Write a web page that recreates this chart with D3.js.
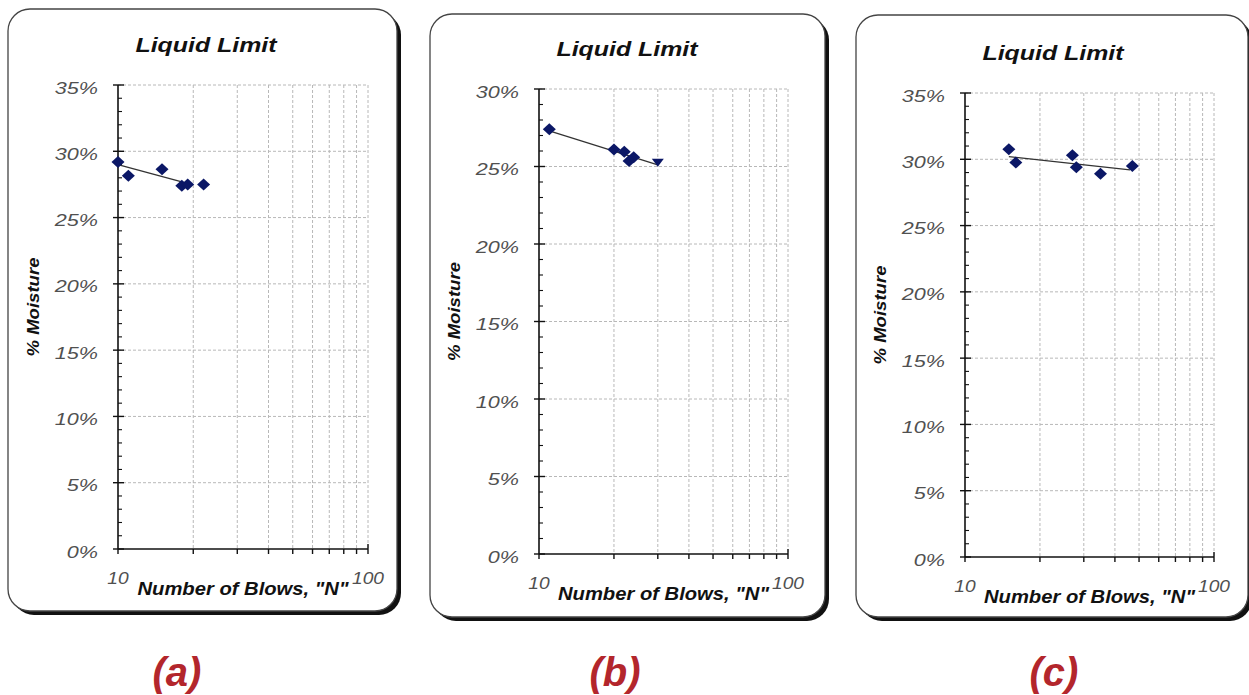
<!DOCTYPE html>
<html>
<head>
<meta charset="utf-8">
<script src="https://cdn.jsdelivr.net/npm/d3@7/dist/d3.min.js"></script>
<style>
  body { margin: 0; background: #fff; }
  text { font-family: "Liberation Sans", Arial, sans-serif; }
</style>
</head>
<body>
<svg id="viz" width="1249" height="695"></svg>
<script>
const svg = d3.select("#viz");

// --- data ---
const blowsA = [10, 11, 15, 18, 19, 22];
const moistA = [29.2, 28.15, 28.65, 27.4, 27.5, 27.5];
const trendA = [[10, 29.0], [18, 27.7]];

const blowsB = [11, 20, 22, 23, 24];
const moistB = [27.4, 26.1, 25.95, 25.35, 25.6];
const triB = [[30, 25.25]];
const trendB = [[11, 27.3], [30, 25.1]];

const blowsC = [15, 16, 27, 28, 35, 47];
const moistC = [30.75, 29.75, 30.3, 29.4, 28.9, 29.5];
const trendC = [[15, 30.2], [46, 29.2]];

const yMaxes = [35, 30, 35];
const xTicks = [10, 20, 30, 40, 50, 60, 70, 80, 90, 100];
const panelLabels = ["(a)", "(b)", "(c)"];

// 画面上の配置（箱・プロット領域・ラベル位置）
const layout = [
  { box: [8, 9, 389, 602],   plot: [118, 368, 85, 549],  label: 177 },
  { box: [430, 14, 395, 603], plot: [539, 788, 89, 554],  label: 615 },
  { box: [856, 15, 392, 602], plot: [965, 1214, 93, 557], label: 1054 }
];

const panels = [
  { pts: blowsA.map((n, i) => [n, moistA[i]]), tri: [], trend: trendA },
  { pts: blowsB.map((n, i) => [n, moistB[i]]), tri: triB, trend: trendB },
  { pts: blowsC.map((n, i) => [n, moistC[i]]), tri: [], trend: trendC }
];

// 菱形・下向き三角のマーカー
const diamond = { draw(ctx) { ctx.moveTo(0, -6); ctx.lineTo(6.5, 0); ctx.lineTo(0, 6); ctx.lineTo(-6.5, 0); ctx.closePath(); } };
const triDown = { draw(ctx) { ctx.moveTo(-6, -4); ctx.lineTo(6, -4); ctx.lineTo(0, 4); ctx.closePath(); } };

svg.append("rect").attr("width", 1249).attr("height", 695).attr("fill", "#fff");

panels.forEach((p, k) => drawPanel(p, layout[k], yMaxes[k], panelLabels[k]));

function drawPanel(p, lay, yMax, label) {
  const [bx, by, bw, bh] = lay.box;
  const [l, r, t, b] = lay.plot;
  const g = svg.append("g");

  // 枠（影付き角丸）
  g.append("rect").attr("x", bx + 4).attr("y", by + 4).attr("width", bw).attr("height", bh)
    .attr("rx", 22).attr("fill", "#111");
  g.append("rect").attr("x", bx).attr("y", by).attr("width", bw).attr("height", bh)
    .attr("rx", 22).attr("fill", "#fff").attr("stroke", "#444").attr("stroke-width", 1.3);

  const x = d3.scaleLog().domain([10, 100]).range([l, r]);
  const y = d3.scaleLinear().domain([0, yMax]).range([b, t]);
  const major = d3.range(0, yMax + 0.1, 5);
  const minor = d3.range(0, yMax + 0.1, 1).filter(v => v % 5 !== 0);

  // グリッド
  g.append("g").selectAll("line").data(major.filter(v => v > 0)).enter().append("line")
    .attr("x1", l).attr("x2", r).attr("y1", d => y(d)).attr("y2", d => y(d))
    .attr("stroke", "#b8b8b8").attr("stroke-dasharray", "3,2");
  g.append("g").selectAll("line").data(xTicks.slice(1)).enter().append("line")
    .attr("x1", d => x(d)).attr("x2", d => x(d)).attr("y1", t).attr("y2", b)
    .attr("stroke", "#b8b8b8").attr("stroke-dasharray", "3,2");

  // 軸
  g.append("line").attr("x1", l).attr("x2", l).attr("y1", t).attr("y2", b)
    .attr("stroke", "#111").attr("stroke-width", 1.6);
  g.append("line").attr("x1", l).attr("x2", r).attr("y1", b).attr("y2", b)
    .attr("stroke", "#111").attr("stroke-width", 1.6);

  g.append("g").selectAll("line").data(major).enter().append("line")
    .attr("x1", l - 5).attr("x2", l + 6).attr("y1", d => y(d)).attr("y2", d => y(d))
    .attr("stroke", "#111").attr("stroke-width", 1.4);
  g.append("g").selectAll("line").data(minor).enter().append("line")
    .attr("x1", l).attr("x2", l + 4).attr("y1", d => y(d)).attr("y2", d => y(d))
    .attr("stroke", "#111").attr("stroke-width", 1.1);
  g.append("g").selectAll("line").data(xTicks).enter().append("line")
    .attr("x1", d => x(d)).attr("x2", d => x(d))
    .attr("y1", d => (d === 100 ? b - 5 : b)).attr("y2", b + 5)
    .attr("stroke", "#111").attr("stroke-width", 1.4);

  // 目盛りラベル
  g.append("g").selectAll("text").data(major).enter().append("text")
    .attr("transform", d => `translate(${l - 20},${y(d) + 8.5}) scale(1.35,1)`)
    .attr("text-anchor", "end").attr("font-size", 16).attr("font-style", "italic")
    .attr("fill", "#505050").text(d => d + "%");
  g.append("g").selectAll("text").data([10, 100]).enter().append("text")
    .attr("transform", d => `translate(${x(d)},${b + 35}) scale(1.2,1)`)
    .attr("text-anchor", "middle").attr("font-size", 16).attr("font-style", "italic")
    .attr("fill", "#505050").text(d => d);

  // タイトル・軸タイトル
  g.append("text").attr("x", l + 88).attr("y", t - 33)
    .attr("text-anchor", "middle").attr("font-size", 21).attr("font-weight", "bold")
    .attr("font-style", "italic").attr("fill", "#111")
    .attr("textLength", 141).attr("lengthAdjust", "spacingAndGlyphs").text("Liquid Limit");
  g.append("text").attr("x", (l + r) / 2).attr("y", b + 46)
    .attr("text-anchor", "middle").attr("font-size", 18).attr("font-weight", "bold")
    .attr("font-style", "italic").attr("fill", "#111")
    .attr("textLength", 211).attr("lengthAdjust", "spacingAndGlyphs")
    .text('Number of Blows, "N"');
  g.append("text")
    .attr("transform", `translate(${l - 79},${(t + b) / 2 - 10}) rotate(-90)`)
    .attr("text-anchor", "middle").attr("font-size", 17).attr("font-weight", "bold")
    .attr("font-style", "italic").attr("fill", "#111")
    .attr("textLength", 99).attr("lengthAdjust", "spacingAndGlyphs").text("% Moisture");

  // 近似線
  g.append("path").datum(p.trend)
    .attr("d", d3.line().x(d => x(d[0])).y(d => y(d[1])))
    .attr("fill", "none").attr("stroke", "#333").attr("stroke-width", 1.3);

  // データ点
  g.append("g").selectAll("path").data(p.pts).enter().append("path")
    .attr("transform", d => `translate(${x(d[0])},${y(d[1])})`)
    .attr("d", d3.symbol().type(diamond)).attr("fill", "#0b1766");
  g.append("g").selectAll("path").data(p.tri).enter().append("path")
    .attr("transform", d => `translate(${x(d[0])},${y(d[1])})`)
    .attr("d", d3.symbol().type(triDown)).attr("fill", "#0b1766");

  // パネル記号
  svg.append("text").attr("x", lay.label).attr("y", 686)
    .attr("text-anchor", "middle").attr("font-size", 40).attr("font-weight", "bold")
    .attr("font-style", "italic").attr("fill", "#b3262c").text(label);
}
</script>
</body>
</html>
